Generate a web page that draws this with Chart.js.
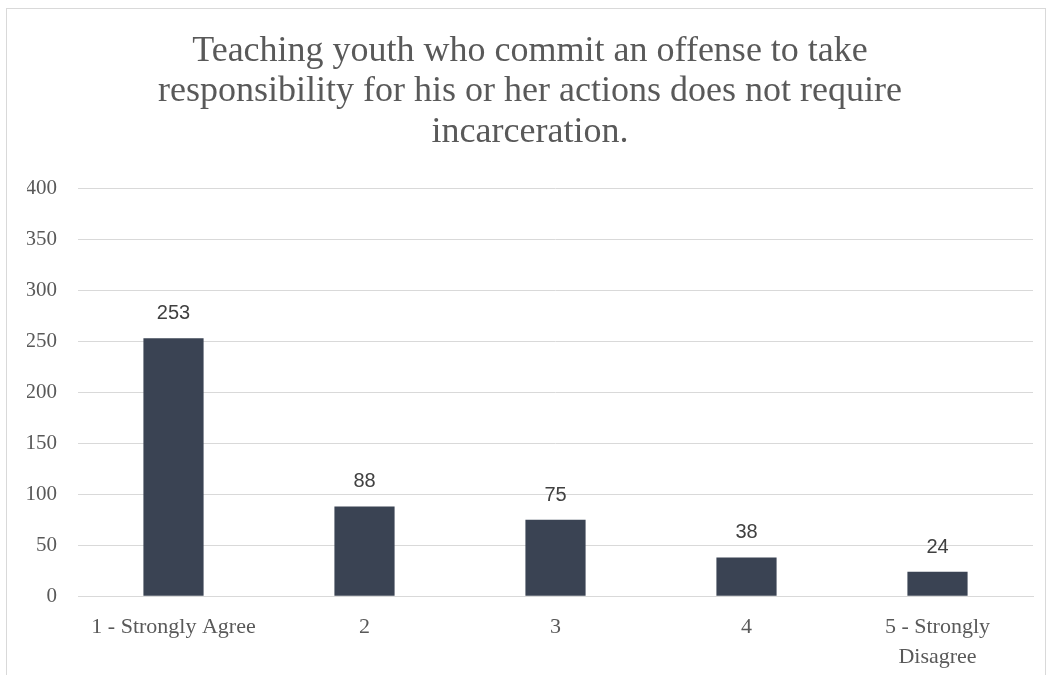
<!DOCTYPE html>
<html lang="en">
<head>
  <meta charset="UTF-8">
  <title>Teaching youth who commit an offense</title>
  <script src="https://cdn.jsdelivr.net/npm/chart.js"></script>
  <style>
    html, body { margin: 0; padding: 0; background: #ffffff; overflow: hidden; }
    #frame {
      position: absolute;
      left: 6px;
      top: 8px;
      width: 1040px;
      height: 690px;
      border: 1px solid #d9d9d9;
      box-sizing: border-box;
    }
  </style>
</head>
<body>
  <div id="frame">
    <canvas id="chart" width="1038" height="671"></canvas>
  </div>

  <script>
    // Dane wykresu
    const categories = ['1 - Strongly Agree', '2', '3', '4', ['5 - Strongly', 'Disagree']];
    const responses = [253, 88, 75, 38, 24];
    const yTicks = [0, 50, 100, 150, 200, 250, 300, 350, 400];

    const titleLines = [
      'Teaching youth who commit an offense to take',
      'responsibility for his or her actions does not require',
      'incarceration.'
    ];

    const serif = '"Liberation Serif", "DejaVu Serif", serif';

    // Etykiety wartości nad słupkami
    const valueLabels = {
      id: 'valueLabels',
      afterDatasetsDraw(chart) {
        const ctx = chart.ctx;
        const meta = chart.getDatasetMeta(0);
        ctx.save();
        ctx.font = '20px "Liberation Sans", Arial, sans-serif';
        ctx.fillStyle = '#404040';
        ctx.textAlign = 'center';
        ctx.textBaseline = 'alphabetic';
        meta.data.forEach((bar, i) => {
          ctx.fillText(String(responses[i]), bar.x, bar.y - 19);
        });
        ctx.restore();
      }
    };

    new Chart(document.getElementById('chart'), {
      type: 'bar',
      data: {
        labels: categories,
        datasets: [{
          data: responses,
          backgroundColor: '#3a4353',
          categoryPercentage: 1.0,
          barPercentage: 0.315
        }]
      },
      options: {
        responsive: false,
        animation: false,
        layout: { padding: { left: 20, right: 12, top: 22, bottom: 0 } },
        plugins: {
          legend: { display: false },
          tooltip: { enabled: false },
          title: {
            display: true,
            text: titleLines,
            color: '#595959',
            font: { family: serif, size: 36, weight: 'normal', lineHeight: 1.125 },
            padding: { top: 0, bottom: 36 }
          }
        },
        scales: {
          x: {
            grid: { display: false },
            border: { display: true, color: '#d9d9d9' },
            ticks: {
              color: '#595959',
              font: { family: serif, size: 22, lineHeight: 1.36 },
              maxRotation: 0,
              autoSkip: false,
              padding: 8
            }
          },
          y: {
            min: 0,
            max: 400,
            afterBuildTicks(axis) {
              axis.ticks = yTicks.map(v => ({ value: v }));
            },
            afterFit(axis) {
              // stała szerokość osi Y
              axis.width = 51;
            },
            grid: { color: '#d9d9d9', drawTicks: false },
            border: { display: false },
            ticks: {
              color: '#595959',
              font: { family: serif, size: 21 },
              padding: 21
            }
          }
        }
      },
      plugins: [valueLabels]
    });
  </script>
</body>
</html>
